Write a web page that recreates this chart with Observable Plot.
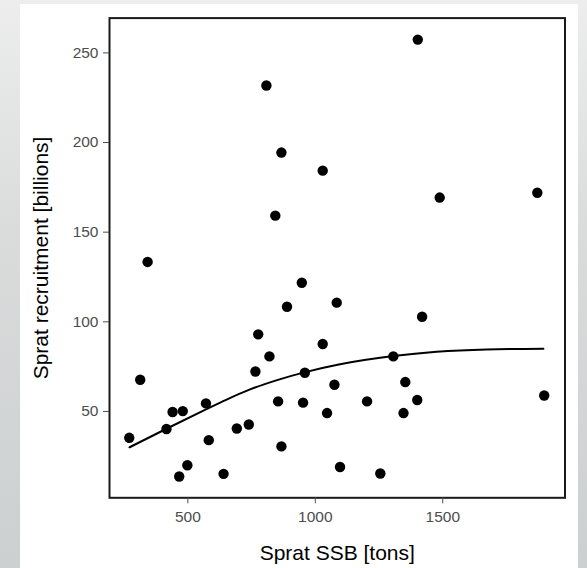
<!DOCTYPE html>
<html>
<head>
<meta charset="utf-8">
<script src="https://cdn.jsdelivr.net/npm/d3@7"></script>
<script src="https://cdn.jsdelivr.net/npm/@observablehq/plot@0.6"></script>
<style>
  html, body { margin: 0; padding: 0; width: 587px; height: 568px; overflow: hidden; }
  body { background: linear-gradient(#ededed 0%, #dadcdc 40%, #cdd0d0 100%); position: relative; font-family: "Liberation Sans", Arial, sans-serif; }
  #card { position: absolute; left: 20px; top: 4px; width: 558px; height: 564px; background: #fff; }
  #chart { position: absolute; left: 0; top: 0; }
</style>
</head>
<body>
<div id="card"></div>
<div id="chart"></div>
<script>
// Observed stock-recruitment pairs
const ssb = [270, 313, 342, 416, 440, 466, 480, 498, 571, 582, 640, 692, 739, 765, 776, 808, 820, 843, 854, 867, 867, 889, 947, 952, 959, 1029, 1029, 1046, 1075, 1084, 1097, 1203, 1255, 1306, 1346, 1353, 1400, 1402, 1419, 1488, 1871, 1898];
const recruitment = [35.3, 67.7, 133.4, 40.2, 49.7, 13.7, 50.2, 20, 54.5, 34, 15.2, 40.5, 42.7, 72.3, 93, 231.8, 80.7, 159.2, 55.6, 194.4, 30.5, 108.4, 121.8, 54.9, 71.6, 184.3, 87.6, 49.1, 64.9, 110.7, 19, 55.6, 15.4, 80.7, 49.1, 66.4, 56.4, 257.4, 102.8, 169.3, 172, 58.9];
// Fitted curve
const fitSsb = [271, 418, 569, 650, 744, 850, 957, 1097, 1306, 1476, 1672, 1895];
const fitRec = [30.0, 40.5, 51.0, 56.5, 62.3, 67.5, 71.8, 76.3, 80.9, 83.3, 84.6, 85.0];
const xTicks = [500, 1000, 1500];
const yTicks = [50, 100, 150, 200, 250];
const xTitle = "Sprat SSB [tons]";
const yTitle = "Sprat recruitment [billions]";

const points = ssb.map((s, i) => ({ssb: s, rec: recruitment[i]}));
const fit = fitSsb.map((s, i) => ({ssb: s, rec: fitRec[i]}));

const plot = Plot.plot({
  width: 587,
  height: 568,
  marginLeft: 109,
  marginRight: 22.5,
  marginTop: 17.6,
  marginBottom: 70.7,
  style: {background: "transparent", fontFamily: "Liberation Sans, Arial, sans-serif"},
  x: {domain: [192.5, 1979.6]},
  y: {domain: [1.84, 269.4]},
  marks: [
    Plot.line(fit, {x: "ssb", y: "rec", stroke: "#000", strokeWidth: 2, curve: "monotone-x"}),
    Plot.dot(points, {x: "ssb", y: "rec", r: 5.2, fill: "#000", stroke: "none"}),
    Plot.frame({stroke: "#1a1a1a", strokeWidth: 2, fill: "none"}),
    Plot.axisX({ticks: xTicks, tickFormat: d3.format("d"), tickSize: 6, tickPadding: 7, fontSize: 15.5, color: "#4d4d4d", label: null}),
    Plot.axisY({ticks: yTicks, tickSize: 6, tickPadding: 5, fontSize: 15.5, color: "#4d4d4d", label: null}),
    Plot.axisX({ticks: [], label: xTitle, labelAnchor: "center", labelArrow: "none", labelOffset: 62, fontSize: 21, color: "#000"}),
    Plot.axisY({ticks: [], label: yTitle, labelAnchor: "center", labelArrow: "none", labelOffset: 76, fontSize: 21, color: "#000"})
  ]
});
document.getElementById("chart").appendChild(plot);
</script>
</body>
</html>
